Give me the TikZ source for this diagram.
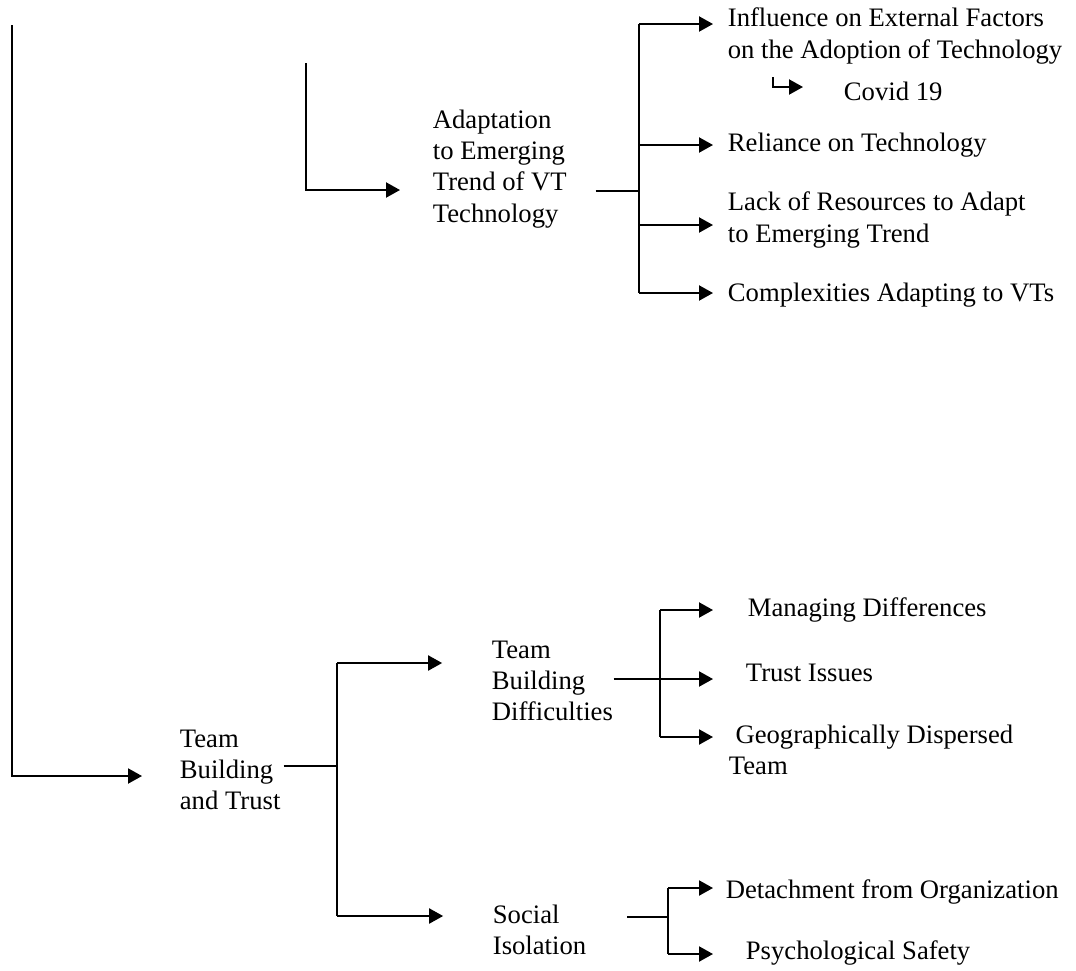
\documentclass[tikz,border=0pt]{standalone}
\usepackage{fontspec}
\setmainfont{Liberation Serif}
\usetikzlibrary{arrows.meta}

\begin{document}
\begin{tikzpicture}[x=0.45pt, y=-0.45pt, line width=0.8pt,
  lbl/.style={anchor=west, inner sep=0pt, align=left, font=\fontsize{12}{14}\selectfont},
  arr/.style={-{Triangle[length=6.3pt, width=6.8pt]}}]
  \useasboundingbox (0,0) rectangle (1076,970);
  \node[lbl] (adapt) at (432,169) {Adaptation\\to Emerging\\Trend of VT\\Technology};
  \node[lbl] (inf) at (727,36) {Influence on External Factors\\on the Adoption of Technology};
  \node[lbl] (covid) at (843,91) {Covid 19};
  \node[lbl] (rel) at (727,145) {Reliance on Technology};
  \node[lbl] (lack) at (727,220) {Lack of Resources to Adapt\\to Emerging Trend};
  \node[lbl] (comp) at (727,295) {Complexities Adapting to VTs};
  \node[lbl] (tbt) at (179,770) {Team\\Building\\and Trust};
  \node[lbl] (tbd) at (491,681) {Team\\Building\\Difficulties};
  \node[lbl] (soc) at (492,930) {Social\\Isolation};
  \node[lbl] (man) at (747,610) {Managing Differences};
  \node[lbl] (trust) at (745,673) {Trust Issues};
  \node[lbl] (geo) at (728,750) {\ Geographically Dispersed\\Team};
  \node[lbl] (det) at (725,892) {Detachment from Organization};
  \node[lbl] (psy) at (745,953) {Psychological Safety};
  \coordinate (rootL) at (12,25);
  \coordinate (l1) at (12,776);
  \coordinate (rootA) at (306,63);
  \coordinate (a1) at (306,190);
  \coordinate (jad1) at (639,24);
  \coordinate (jad2) at (639,145);
  \coordinate (jad3) at (639,191);
  \coordinate (jad4) at (639,225);
  \coordinate (jad5) at (639,293);
  \coordinate (hook) at (773,77);
  \coordinate (hook1) at (773,87);
  \coordinate (jtb1) at (337,663);
  \coordinate (jtb2) at (337,766);
  \coordinate (jtb3) at (337,916);
  \coordinate (jtd1) at (660,610);
  \coordinate (jtd2) at (660,679);
  \coordinate (jtd3) at (660,737);
  \coordinate (jsi1) at (668,888);
  \coordinate (jsi2) at (668,917);
  \coordinate (jsi3) at (668,954);
  \draw[arr, shorten >=16.65pt] (rootL) -- (l1) -- (tbt.west |- l1);
  \draw[arr, shorten >=14.4pt] (rootA) -- (a1) -- (adapt.west |- a1);
  \draw[shorten <=12.6pt] (adapt.east |- jad3) -- (jad3);
  \draw (jad1) -- (jad5);
  \draw[arr, shorten >=6.3pt] (jad1) -- (inf.west |- jad1);
  \draw[arr, shorten >=6.3pt] (jad2) -- (rel.west |- jad2);
  \draw[arr, shorten >=6.3pt] (jad4) -- (lack.west |- jad4);
  \draw[arr, shorten >=6.3pt] (jad5) -- (comp.west |- jad5);
  \draw[arr, shorten >=18pt] (hook) -- (hook1) -- (covid.west |- hook1);
  \draw[shorten <=1pt] (tbt.east |- jtb2) -- (jtb2);
  \draw (jtb1) -- (jtb3);
  \draw[arr, shorten >=22pt] (jtb1) -- (tbd.west |- jtb1);
  \draw[arr, shorten >=22pt] (jtb3) -- (soc.west |- jtb3);
  \draw (jtd1) -- (jtd3);
  \draw[arr, shorten >=14.4pt] (tbd.east |- jtd2) -- (trust.west |- jtd2);
  \draw[arr, shorten >=15.3pt] (jtd1) -- (man.west |- jtd1);
  \draw[arr, shorten >=6.75pt] (jtd3) -- (geo.west |- jtd3);
  \draw[shorten <=18pt] (soc.east |- jsi2) -- (jsi2);
  \draw (jsi1) -- (jsi3);
  \draw[arr, shorten >=5.4pt] (jsi1) -- (det.west |- jsi1);
  \draw[arr, shorten >=14.4pt] (jsi3) -- (psy.west |- jsi3);
\end{tikzpicture}
\end{document}
